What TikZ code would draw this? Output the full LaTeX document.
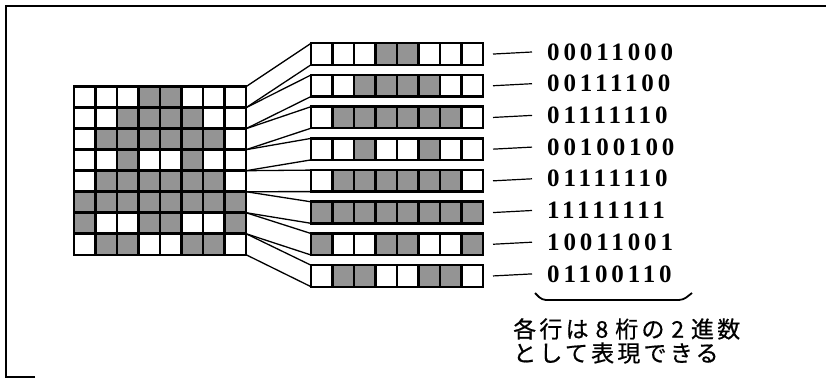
\documentclass[tikz,border=0pt]{standalone}
\usepackage{fontspec}
\usepackage{xstring}
\setmainfont{Liberation Serif}
\newfontfamily\bitfont[LetterSpace=15.6]{Liberation Serif}
\newfontfamily\jpfont[LetterSpace=14,FakeBold=0.6]{Noto Sans CJK JP}
\usetikzlibrary{positioning,calc}
\colorlet{dotgray}{black!42}

\begin{document}
\begin{tikzpicture}[x=1pt,y=-1pt,
  cell/.style={draw=black,line width=2.4pt},
  rowbox/.style={draw=black,line width=2.6pt,minimum width=172pt,minimum height=21pt,inner sep=0pt,outer sep=0pt,anchor=north west},
  link/.style={line width=1.3pt},
  bits/.style={font=\bitfont\bfseries\fontsize{25}{25}\selectfont,anchor=west,inner sep=0pt}]
\useasboundingbox (0,0) rectangle (826,379);
% frame
\draw[line width=1.8pt] (35,377) -- (6,377) -- (6,6) -- (826,6);
% rows of the 8x8 pattern and their pulled-out copies
\foreach \code [count=\r from 0] in {00011000,00111100,01111110,00100100,01111110,11111111,10011001,01100110}{
  \node[rowbox] (g\r) at (74,{86.7+21*\r}) {};
  \node[rowbox,minimum height=21.5pt] (s\r) at (311,{43.3+31.7*\r}) {};
  \foreach \c in {1,...,8}{
    \StrChar{\code}{\c}[\bit]
    \ifnum\bit=1 \def\tone{dotgray}\else \def\tone{white}\fi
    \draw[cell,fill=\tone] ($(g\r.north west)+({21.5*(\c-1)},0)$) rectangle ++(21.5,21);
    \draw[cell,fill=\tone] ($(s\r.north west)+({21.5*(\c-1)},0)$) rectangle ++(21.5,21.5);
  }
  \draw[link] (g\r.north east) -- (s\r.north west);
  \draw[link] (g\r.south east) -- (s\r.south west);
  \node[bits] (b\r) at (547,{52+31.7*\r}) {\code};
  \draw[line width=1.2pt] ([xshift=10pt]s\r.east) -- ([xshift=-15pt]b\r.west);
}
% brace under the last code
\draw[line width=1.8pt,rounded corners=4pt] (535,293) -- (542,300) -- (683,300) -- (692,293);
\node[font=\jpfont\fontsize{23}{24}\selectfont,align=left,anchor=north west,inner sep=0pt] (note) at (513,318)
  {各行は\hspace{0.3em}8\hspace{0.3em}桁の\hspace{0.3em}2\hspace{0.3em}進数\\として表現できる};
\end{tikzpicture}
\end{document}
